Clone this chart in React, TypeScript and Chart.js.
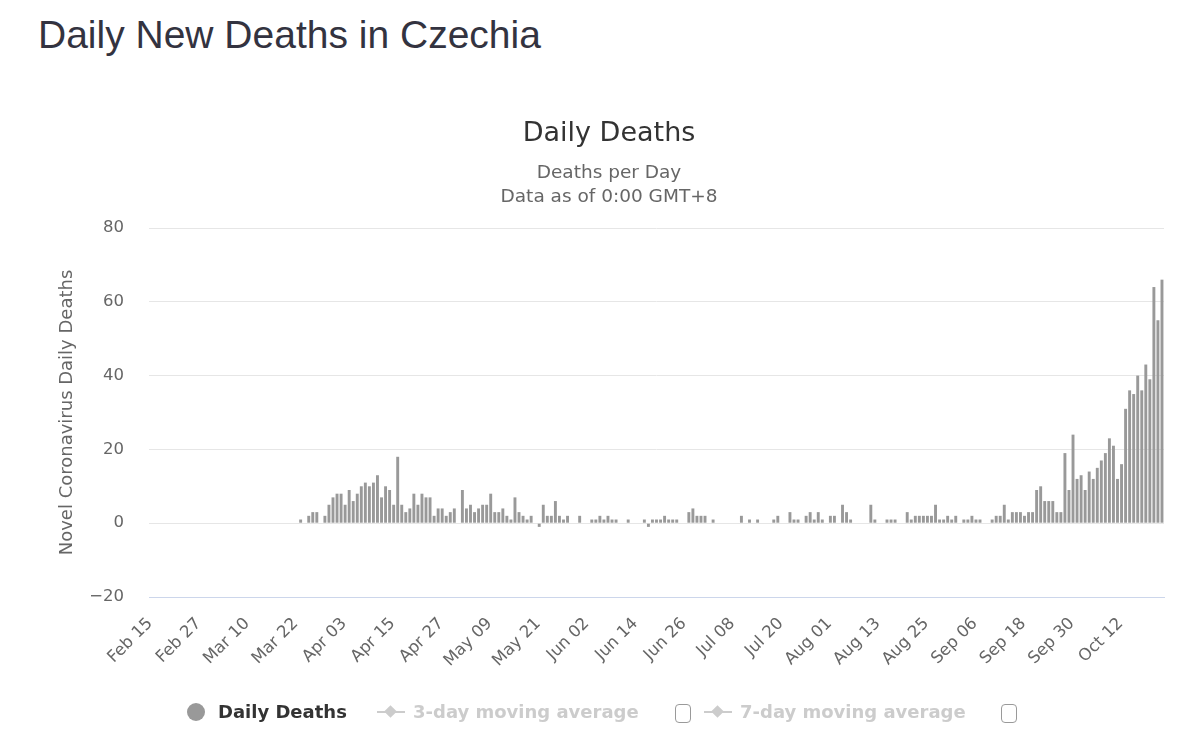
import React, { useEffect, useRef } from "react";
import { Chart, registerables } from "chart.js";

Chart.register(...registerables);

const FONT = "'DejaVu Sans', sans-serif";

const START_YEAR = 2020;
const START_MONTH = 1; // February (0-based)
const START_DAY = 15;
const DAY_COUNT = 251;

const MONTH_NAMES = ["Jan", "Feb", "Mar", "Apr", "May", "Jun", "Jul", "Aug", "Sep", "Oct", "Nov", "Dec"];

const TICK_LABELS = [
  "Feb 15", "Feb 27", "Mar 10", "Mar 22", "Apr 03", "Apr 15", "Apr 27", "May 09", "May 21",
  "Jun 02", "Jun 14", "Jun 26", "Jul 08", "Jul 20", "Aug 01", "Aug 13", "Aug 25", "Sep 06",
  "Sep 18", "Sep 30", "Oct 12",
];

const Y_MIN = -20;
const Y_MAX = 80;
const Y_STEP = 20;

// Daily deaths, Feb 15 .. Oct 22 (251 days)
const DAILY_DEATHS: number[] = [
  // Feb 15 - Mar 22 (idx 0-36)
  0, 0, 0, 0, 0, 0, 0, 0, 0, 0, 0, 0, 0, 0, 0, 0, 0, 0, 0, 0,
  0, 0, 0, 0, 0, 0, 0, 0, 0, 0, 0, 0, 0, 0, 0, 0, 0,
  // idx 37-
  1, 0, 2, 3, 3, 0, 2, 5, 7, 8, 8, 5, 9, 6, 8, 10, 11, 10, 11, 13,
  7, 10, 9, 5, 18, 5, 3, 4, 8, 5, 8, 7, 7, 2, 4, 4, 2, 3, 4, 0,
  9, 4, 5, 3, 4, 5, 5, 8, 3, 3, 4, 2, 1, 7, 3, 2, 1, 2, 0, -1,
  5, 2, 2, 6, 2, 1, 2, 0, 0, 2, 0, 0, 1, 1, 2, 1, 2, 1, 1, 0,
  0, 1, 0, 0, 0, 1, -1, 1, 1, 1, 2, 1, 1, 1, 0, 0, 3, 4, 2, 2,
  2, 0, 1, 0, 0, 0, 0, 0, 0, 2, 0, 1, 0, 1, 0, 0, 0, 1, 2, 0,
  0, 3, 1, 1, 0, 2, 3, 1, 3, 1, 0, 2, 2, 0, 5, 3, 1, 0, 0, 0,
  0, 5, 1, 0, 0, 1, 1, 1, 0, 0, 3, 1, 2, 2, 2, 2, 2, 5, 1, 1,
  2, 1, 2, 0, 1, 1, 2, 1, 1, 0, 0, 1, 2, 2, 5, 1, 3, 3, 3, 2,
  3, 3, 9, 10, 6, 6, 6, 3, 3, 19, 9, 24, 12, 13, 9, 14, 12, 15, 17, 19,
  23, 21, 12, 16, 31, 36, 35, 40, 36, 43, 39, 64, 55, 66,
];

function makeCategories(): string[] {
  const out: string[] = [];
  for (let i = 0; i < DAY_COUNT; i++) {
    const d = new Date(Date.UTC(START_YEAR, START_MONTH, START_DAY + i));
    out.push(`${MONTH_NAMES[d.getUTCMonth()]} ${String(d.getUTCDate()).padStart(2, "0")}`);
  }
  return out;
}

const CATEGORIES = makeCategories();

function ChartCanvas() {
  const ref = useRef<HTMLCanvasElement | null>(null);
  useEffect(() => {
    if (!ref.current) return;
    const chart = new Chart(ref.current, {
      type: "bar",
      data: {
        labels: CATEGORIES,
        datasets: [
          {
            label: "Daily Deaths",
            data: DAILY_DEATHS,
            backgroundColor: "#999999",
            borderWidth: 0,
            barPercentage: 0.72,
            categoryPercentage: 1,
          },
        ],
      },
      options: {
        responsive: false,
        animation: false,
        layout: { padding: { left: 54, right: 36, top: 0, bottom: 0 } },
        plugins: {
          legend: { display: false },
          tooltip: { enabled: false },
          title: {
            display: true,
            text: "Daily Deaths",
            color: "#333333",
            font: { family: FONT, size: 27, weight: "normal" },
            padding: { top: 118, bottom: 0 },
          },
          subtitle: {
            display: true,
            text: ["Deaths per Day", "Data as of 0:00 GMT+8"],
            color: "#666666",
            font: { family: FONT, size: 18.5, lineHeight: 1.3 },
            padding: { top: 10.6, bottom: 18.9 },
          },
        },
        scales: {
          x: {
            type: "category",
            grid: { display: false, drawTicks: false },
            border: { display: true, color: "#ccd6eb", width: 1 },
            ticks: {
              autoSkip: false,
              minRotation: 45,
              maxRotation: 45,
              padding: 17,
              labelOffset: -1,
              color: "#666666",
              font: { family: FONT, size: 16.5 },
              callback: (_v: any, index: number) => {
                const lab = CATEGORIES[index];
                return TICK_LABELS.includes(lab) ? lab : "";
              },
            },
            afterFit: (s: any) => {
              s.height = 148;
            },
          },
          y: {
            min: Y_MIN,
            max: Y_MAX,
            border: { display: false },
            grid: {
              drawTicks: false,
              color: (c: any) => (c.tick && c.tick.value === Y_MIN ? "#ccd6eb" : "#e6e6e6"),
              lineWidth: 1,
            },
            ticks: {
              stepSize: Y_STEP,
              padding: 25,
              color: "#666666",
              font: { family: FONT, size: 16.5 },
              callback: (v: any) => (Number(v) < 0 ? "\u2212" + Math.abs(Number(v)) : String(v)),
            },
            title: {
              display: true,
              text: "Novel Coronavirus Daily Deaths",
              color: "#666666",
              font: { family: FONT, size: 18 },
              padding: { top: 3, bottom: 0 },
            },
            afterFit: (s: any) => {
              s.width = 95;
            },
          },
        },
      },
    });
    return () => chart.destroy();
  }, []);
  return (
    <canvas
      ref={ref}
      width={1200}
      height={745}
      style={{ position: "absolute", left: 0, top: 0, width: 1200, height: 745 }}
    />
  );
}

const legendText: React.CSSProperties = {
  position: "absolute",
  fontFamily: FONT,
  fontWeight: "bold",
  fontSize: 18,
  lineHeight: "24px",
  top: 700,
  whiteSpace: "nowrap",
};

function Checkbox({ left }: { left: number }) {
  return (
    <div
      style={{
        position: "absolute",
        left,
        top: 704,
        width: 14,
        height: 17,
        border: "1.5px solid #9a9a9a",
        borderRadius: 4,
        background: "#fff",
      }}
    />
  );
}

function LineMarker({ left }: { left: number }) {
  return (
    <div style={{ position: "absolute", left, top: 704, width: 28, height: 16 }}>
      <div style={{ position: "absolute", left: 0, top: 7, width: 28, height: 2, background: "#cccccc" }} />
      <div
        style={{
          position: "absolute",
          left: 9,
          top: 3,
          width: 9,
          height: 9,
          background: "#cccccc",
          transform: "rotate(45deg)",
        }}
      />
    </div>
  );
}

export default function App() {
  return (
    <div style={{ position: "absolute", left: 0, top: 0, width: 1200, height: 745, background: "#ffffff", overflow: "hidden" }}>
      <div
        style={{
          position: "absolute",
          left: 38,
          top: 13,
          fontFamily: "'Liberation Sans', Arial, sans-serif",
          fontSize: 39,
          lineHeight: "44px",
          color: "#333340",
          whiteSpace: "nowrap",
        }}
      >
        Daily New Deaths in Czechia
      </div>
      <ChartCanvas />
      <div
        style={{
          position: "absolute",
          left: 187,
          top: 703,
          width: 18,
          height: 18,
          borderRadius: 9,
          background: "#999999",
        }}
      />
      <div style={{ ...legendText, left: 218, color: "#333333" }}>Daily Deaths</div>
      <LineMarker left={377} />
      <div style={{ ...legendText, left: 413, color: "#cccccc" }}>3-day moving average</div>
      <Checkbox left={675} />
      <LineMarker left={704} />
      <div style={{ ...legendText, left: 740, color: "#cccccc" }}>7-day moving average</div>
      <Checkbox left={1001} />
    </div>
  );
}
